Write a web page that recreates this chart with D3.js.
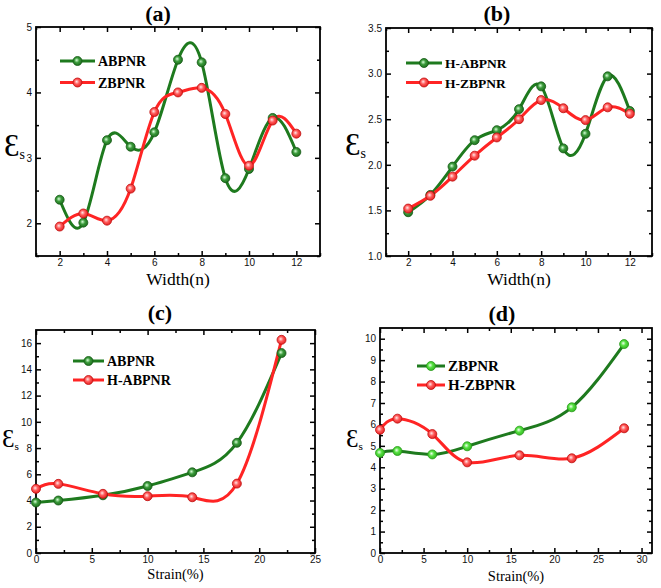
<!DOCTYPE html>
<html><head><meta charset="utf-8">
<script src="https://cdn.jsdelivr.net/npm/d3@7"></script>
<style>body{margin:0;background:#fff}svg{display:block}</style>
</head><body>
<svg id="c" width="661" height="588"></svg>
<script>
// ---- data ----
const widthN = [2,3,4,5,6,7,8,9,10,11,12];
const aABPNR = [2.36,2.01,3.27,3.17,3.39,4.50,4.46,2.69,2.83,3.61,3.09];
const aZBPNR = [1.95,2.15,2.04,2.53,3.70,4.00,4.07,3.67,2.88,3.57,3.37];
const bHABPNR = [1.48,1.67,1.98,2.27,2.38,2.61,2.86,2.18,2.34,2.97,2.59];
const bHZBPNR = [1.52,1.66,1.87,2.10,2.30,2.50,2.71,2.62,2.49,2.63,2.56];
const strainC = [0,2,6,10,14,18,22];
const cABPNR = [3.85,4.00,4.40,5.11,6.15,8.40,15.24];
const cHABPNR = [4.89,5.27,4.51,4.33,4.25,5.29,16.25];
const strainD = [0,2,6,10,16,22,28];
const dZBPNR = [4.67,4.76,4.60,4.98,5.71,6.80,9.75];
const dHZBPNR = [5.75,6.27,5.55,4.23,4.56,4.42,5.82];
const xTicksWidth = [2,4,6,8,10,12];
const yTicksA = [2,3,4,5];
const yTicksB = [1.0,1.5,2.0,2.5,3.0,3.5];
const xTicksC = [0,5,10,15,20,25];
const yTicksC = [0,2,4,6,8,10,12,14,16];
const xTicksD = [0,5,10,15,20,25,30];
const yTicksD = [0,1,2,3,4,5,6,7,8,9,10];

const svg = d3.select("#c");
const defs = svg.append("defs");
function grad(id, c0, c1, c2){
  const g = defs.append("radialGradient").attr("id",id).attr("cx","45%").attr("cy","45%").attr("r","60%").attr("fx","40%").attr("fy","40%");
  g.append("stop").attr("offset","0%").attr("stop-color",c0);
  g.append("stop").attr("offset","45%").attr("stop-color",c1);
  g.append("stop").attr("offset","100%").attr("stop-color",c2);
}
grad("gG","#d8ffd8","#3a9a3a","#1a6a1a");
grad("gR","#ffe8e8","#ff5a5a","#e01818");
grad("gL","#f0fff0","#55e040","#30b020");

const GREEN = "#1e7a1e", RED = "#ff2424";
const serif = "'Liberation Serif','Times New Roman',serif";
const sans = "'Liberation Sans',Arial,sans-serif";

function range(a,b,s){const r=[];for(let v=a;v<=b+1e-9;v+=s)r.push(+v.toFixed(4));return r;}

function panel(cfg){
  const g = svg.append("g");
  const x = d3.scaleLinear().domain(cfg.xd).range([cfg.l,cfg.r]);
  const y = d3.scaleLinear().domain(cfg.yd).range([cfg.b,cfg.t]);
  const fs = cfg.tickFs;
  function ax(gen, scale, vals, size, fmt, tr, pad){
    const a = g.append("g").attr("transform",tr).call(gen(scale).tickValues(vals).tickSize(size).tickPadding(pad||4).tickFormat(fmt));
    a.select(".domain").remove();
    a.selectAll("line").attr("stroke","#000").attr("stroke-width",1.5);
    a.selectAll("text").attr("font-family",sans).attr("font-size",fs).attr("fill","#111");
    return a;
  }
  const none = ()=>"";
  ax(d3.axisBottom, x, cfg.xt, -5, cfg.xf, `translate(0,${cfg.b})`, 3);
  ax(d3.axisBottom, x, cfg.xm, -3, none, `translate(0,${cfg.b})`);
  ax(d3.axisTop, x, cfg.xt, -5, none, `translate(0,${cfg.t})`);
  ax(d3.axisTop, x, cfg.xm, -3, none, `translate(0,${cfg.t})`);
  ax(d3.axisLeft, y, cfg.yt, -5, cfg.yf, `translate(${cfg.l},0)`);
  ax(d3.axisLeft, y, cfg.ym, -3, none, `translate(${cfg.l},0)`);
  ax(d3.axisRight, y, cfg.yt, -5, none, `translate(${cfg.r},0)`);
  ax(d3.axisRight, y, cfg.ym, -3, none, `translate(${cfg.r},0)`);
  g.append("rect").attr("x",cfg.l).attr("y",cfg.t).attr("width",cfg.r-cfg.l).attr("height",cfg.b-cfg.t)
    .attr("fill","none").attr("stroke","#000").attr("stroke-width",1.8);
  const line = d3.line().x(d=>x(d[0])).y(d=>y(d[1])).curve(d3.curveNatural);
  const clipId = "clip"+cfg.title.replace(/\W/g,"");
  defs.append("clipPath").attr("id",clipId).append("rect").attr("x",cfg.l).attr("y",cfg.t).attr("width",cfg.r-cfg.l).attr("height",cfg.b-cfg.t);
  cfg.series.forEach(s=>{
    const pts = cfg.xs.map((v,i)=>[v,s.v[i]]);
    g.append("path").attr("d",line(pts)).attr("fill","none").attr("stroke",s.c).attr("stroke-width",3).attr("clip-path",`url(#${clipId})`);
  });
  cfg.series.forEach(s=>{
    cfg.xs.forEach((v,i)=>{
      g.append("circle").attr("cx",x(v)).attr("cy",y(s.v[i])).attr("r",4.5).attr("fill",`url(#${s.m})`).attr("stroke",s.ms).attr("stroke-width",0.8);
    });
  });
  // legend
  cfg.series.forEach((s,i)=>{
    const ly = cfg.leg.y + i*cfg.leg.dy;
    g.append("line").attr("x1",cfg.leg.x).attr("x2",cfg.leg.x+cfg.leg.w).attr("y1",ly).attr("y2",ly).attr("stroke",s.c).attr("stroke-width",3);
    g.append("circle").attr("cx",cfg.leg.x+cfg.leg.w/2).attr("cy",ly).attr("r",4.5).attr("fill",`url(#${s.m})`).attr("stroke",s.ms).attr("stroke-width",0.8);
    g.append("text").attr("x",cfg.leg.x+cfg.leg.w+3).attr("y",ly+5).attr("font-family",serif).attr("font-weight","bold").attr("font-size",cfg.leg.fs).text(s.name);
  });
  g.append("text").attr("x",cfg.titleX).attr("y",cfg.titleY).attr("text-anchor","middle").attr("font-family",serif).attr("font-weight","bold").attr("font-size",22).text(cfg.title);
  g.append("text").attr("x",(cfg.l+cfg.r)/2).attr("y",cfg.xlabY).attr("text-anchor","middle").attr("font-family",serif).attr("font-size",cfg.xlabFs).text(cfg.xlab);
  const el = g.append("text").attr("x",cfg.epsX).attr("y",cfg.epsY).attr("font-family",serif).attr("font-size",cfg.epsFs);
  el.append("tspan").text("Ɛ");
  el.append("tspan").attr("font-size",cfg.epsFs*0.45).attr("dy",cfg.epsFs*0.1).text("s");
}

const fmt0 = d3.format("d"), fmt1 = d3.format(".1f");
panel({l:36,r:320,t:27,b:256,xd:[1,13],yd:[1.5,5],xt:xTicksWidth,xm:[1,3,5,7,9,11,13],yt:yTicksA,ym:[1.5,2.5,3.5,4.5],
  xf:fmt0,yf:fmt0,tickFs:10,xs:widthN,
  series:[{name:"ABPNR",v:aABPNR,c:GREEN,m:"gG",ms:"#155a15"},{name:"ZBPNR",v:aZBPNR,c:RED,m:"gR",ms:"#c01010"}],
  leg:{x:60,y:61,dy:21.5,w:35,fs:14},title:"(a)",titleX:158,titleY:21,xlab:"Width(n)",xlabY:285,xlabFs:17.5,epsX:4,epsY:156,epsFs:31});
panel({l:386,r:652,t:28,b:256,xd:[1,13],yd:[1,3.5],xt:xTicksWidth,xm:[1,3,5,7,9,11,13],yt:yTicksB,ym:range(1.25,3.25,0.5),
  xf:fmt0,yf:fmt1,tickFs:10,xs:widthN,
  series:[{name:"H-ABPNR",v:bHABPNR,c:GREEN,m:"gG",ms:"#155a15"},{name:"H-ZBPNR",v:bHZBPNR,c:RED,m:"gR",ms:"#c01010"}],
  leg:{x:406,y:63,dy:19.5,w:36,fs:13.5},title:"(b)",titleX:497,titleY:21,xlab:"Width(n)",xlabY:285,xlabFs:17.5,epsX:345,epsY:155,epsFs:31});
panel({l:36,r:315,t:330,b:553,xd:[0,25],yd:[0,17],xt:xTicksC,xm:[2.5,7.5,12.5,17.5,22.5],yt:yTicksC,ym:range(1,15,2),
  xf:fmt0,yf:fmt0,tickFs:10,xs:strainC,
  series:[{name:"ABPNR",v:cABPNR,c:GREEN,m:"gG",ms:"#155a15"},{name:"H-ABPNR",v:cHABPNR,c:RED,m:"gR",ms:"#c01010"}],
  leg:{x:73,y:361,dy:19,w:31,fs:14},title:"(c)",titleX:160,titleY:320,xlab:"Strain(%)",xlabY:579,xlabFs:14.5,epsX:2,epsY:447,epsFs:25});
panel({l:380,r:652,t:328,b:553,xd:[0,31.2],yd:[0,10.5],xt:xTicksD,xm:[2.5,7.5,12.5,17.5,22.5,27.5],yt:yTicksD,ym:range(0.5,9.5,1),
  xf:fmt0,yf:fmt0,tickFs:10,xs:strainD,
  series:[{name:"ZBPNR",v:dZBPNR,c:GREEN,m:"gL",ms:"#2a9a1a"},{name:"H-ZBPNR",v:dHZBPNR,c:RED,m:"gR",ms:"#c01010"}],
  leg:{x:417,y:366,dy:19,w:28,fs:15},title:"(d)",titleX:502,titleY:321,xlab:"Strain(%)",xlabY:581,xlabFs:14.5,epsX:346,epsY:447,epsFs:25});
</script>
</body></html>
